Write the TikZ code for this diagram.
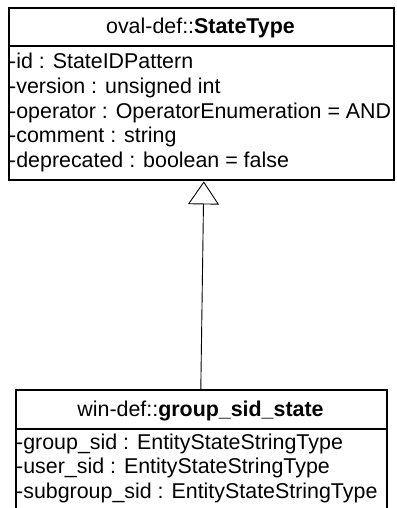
\documentclass[tikz,border=0pt]{standalone}
\usepackage{fontspec}
\setmainfont{Liberation Sans}
\usetikzlibrary{arrows.meta,calc}
\begin{document}
\begin{tikzpicture}[x=1pt,y=-1pt,
  box/.style={draw=black,line width=1.6pt,fill=white,inner sep=0pt,anchor=north west},
  txt/.style={inner sep=0pt,font=\fontsize{21.4}{24.5}\selectfont},
  attr/.style={txt,anchor=base west},
  head/.style={txt,anchor=base},
  inherit/.style={line width=0.9pt,-{Triangle[open,length=23pt,width=31pt,line width=0.9pt]}}]
\useasboundingbox (0,0) rectangle (396,508);
% top class
\node[box,minimum width=385pt,minimum height=38pt] (topHead) at (8,7) {};
\node[box,minimum width=385pt,minimum height=134pt] (topBody) at (8,45) {};
\node[head] (topName) at (200.5,34) {oval-def::\textbf{StateType}};
\node[attr] (a1) at (9,69) {-id : StateIDPattern};
\node[attr] (a2) at (9,93.5) {-version : unsigned int};
\node[attr] (a3) at (9,118) {-operator : OperatorEnumeration = AND};
\node[attr] (a4) at (9,142.5) {-comment : string};
\node[attr] (a5) at (9,167) {-deprecated : boolean = false};
% bottom class
\node[box,minimum width=371pt,minimum height=39pt] (botHead) at (15,389) {};
\node[box,minimum width=371pt,minimum height=90pt] (botBody) at (15,428) {};
\node[head] (botName) at (200.5,416) {win-def::\textbf{group\_sid\_state}};
\node[attr] (b1) at (16,449) {-group\_sid : EntityStateStringType};
\node[attr] (b2) at (16,473.5) {-user\_sid : EntityStateStringType};
\node[attr] (b3) at (16,498) {-subgroup\_sid : EntityStateStringType};
% generalization
\draw[inherit] ($(botHead.north)+(-0.5,0)$) -- ($(topBody.south)+(2.5,0.8)$);
\end{tikzpicture}
\end{document}
